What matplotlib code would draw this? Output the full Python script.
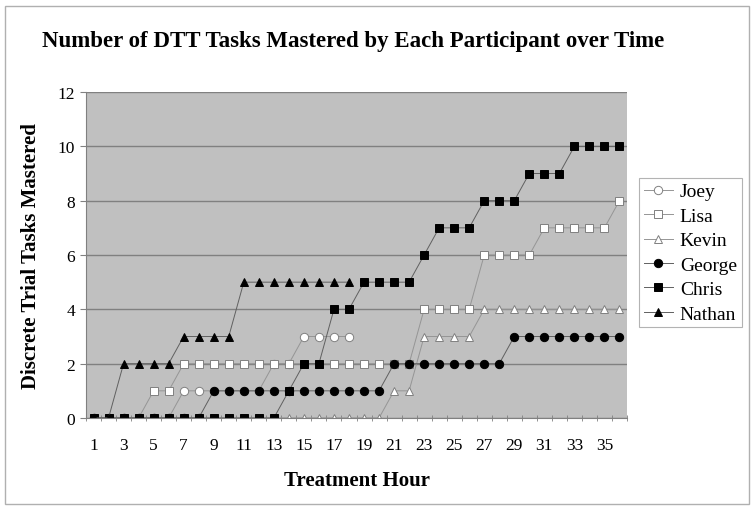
import matplotlib
matplotlib.use("Agg")
import matplotlib.pyplot as plt
from matplotlib.patches import Rectangle
from matplotlib.ticker import FixedLocator

plt.rcParams['font.family'] = ['Liberation Serif', 'DejaVu Serif']

hours = list(range(1, 37))
joey   = [0,0,0,0,0,0,1,1,1,1,1,1,2,2,3,3,3,3]
lisa   = [0,0,0,0,1,1] + [2]*16 + [4]*4 + [6]*4 + [7]*5 + [8]
kevin  = [0]*20 + [1,1] + [3]*4 + [4]*10
george = [0]*8 + [1]*12 + [2]*8 + [3]*8
chris  = [0]*13 + [1,2,2,4,4,5,5,5,5,6,7,7,7,8,8,8,9,9,9,10,10,10,10]
nathan = [0,0,2,2,2,2,3,3,3,3,5,5,5,5,5,5,5,5]

names = ["Joey", "Lisa", "Kevin", "George", "Chris", "Nathan"]
series = [joey, lisa, kevin, george, chris, nathan]
markers = ["o", "s", "^", "o", "s", "^"]
faces = ["white", "white", "white", "black", "black", "black"]
edges = ["#808080", "#808080", "#808080", "black", "black", "black"]
lines = ["#959595", "#959595", "#959595", "#606060", "#606060", "#606060"]

W, H = 755, 510
fig = plt.figure(figsize=(W/100, H/100), dpi=100)
fig.patches.append(Rectangle((5/W, 5/H), 744/W, 498/H, transform=fig.transFigure,
                             fill=False, edgecolor="#b0b0b0", linewidth=1))

L, R, T, B = 86, 627, 93, 419
ax = fig.add_axes([L/W, 1-B/H, (R-L)/W, (B-T)/H])
ax.set_facecolor("#c0c0c0")

for name, ys, m, fc, ec, lc in zip(names, series, markers, faces, edges, lines):
    ax.plot(hours[:len(ys)], ys, color=lc, linewidth=0.7, marker=m,
            markersize=6, markerfacecolor=fc,
            markeredgecolor=ec, markeredgewidth=0.7, label=name)

ax.set_xlim(0.5, 36.5)
ax.set_ylim(0, 12)
ax.set_yticks(range(0, 13, 2))
ax.yaxis.grid(True, color="#808080", linewidth=1)
ax.set_axisbelow(True)
ax.set_xticks(range(1, 37, 2))
ax.xaxis.set_minor_locator(FixedLocator([k + 0.5 for k in range(0, 37)]))
ax.tick_params(axis="x", which="major", length=0, labelsize=12.5, pad=14)
ax.tick_params(axis="x", which="minor", length=4, color="#808080", direction="inout")
ax.tick_params(axis="y", length=4, color="#808080", labelsize=12.5, pad=4)
for s in ["top", "right"]:
    ax.spines[s].set_visible(False)
for s in ["left", "bottom"]:
    ax.spines[s].set_color("#808080")

ax.set_xlabel("Treatment Hour", fontsize=15, fontweight="bold", labelpad=12)
ax.set_ylabel("Discrete Trial Tasks Mastered", fontsize=15, fontweight="bold", labelpad=12)
fig.text(353/W, 1-41/H, "Number of DTT Tasks Mastered by Each Participant over Time",
         ha="center", va="center", fontsize=16.5, fontweight="bold")

leg = fig.legend(loc="upper left", bbox_to_anchor=(639/W, 1-179/H), fontsize=14,
                 frameon=True, fancybox=False, edgecolor="#a0a0a0", borderpad=0.25,
                 handlelength=1.5, handletextpad=0.35, labelspacing=0.35, borderaxespad=0)
leg.get_frame().set_linewidth(0.8)

fig.savefig("out.png", dpi=100)
